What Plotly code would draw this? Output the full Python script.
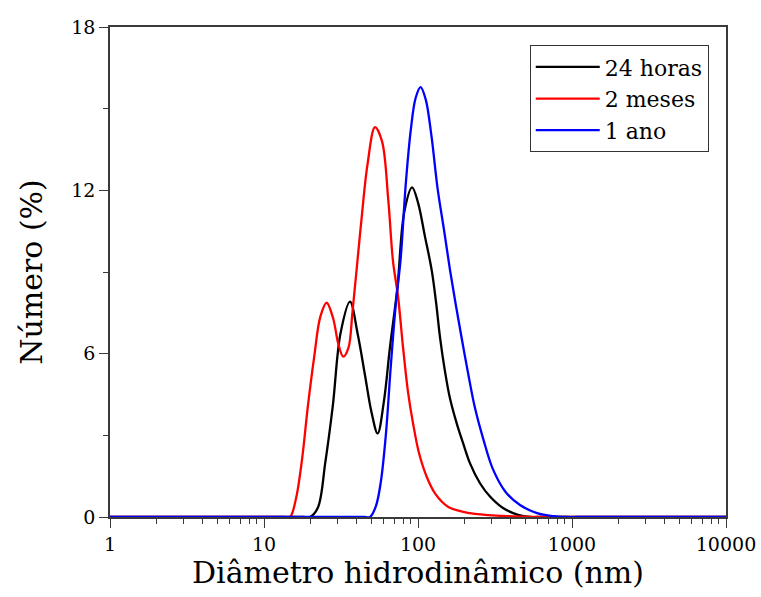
import plotly.graph_objects as go

# Distribuição de tamanho por número (DLS)
diam_24h = [1, 18.0, 19.9, 22.4, 25.0, 28.0, 31.4, 36.2, 40.5, 45.3, 49.9, 54.7, 59.9,
            65.8, 73.4, 81.4, 91.5, 100.0, 111.0, 122.7, 130.9, 139.0, 149.7, 161.4,
            179.2, 196.0, 217.7, 252.7, 293.4, 356.4, 446.1, 533.8, 600.0, 10000]
num_24h = [0, 0, 0, 0.35, 2.0, 4.1, 6.75, 7.91, 6.75, 5.2, 3.85, 3.07, 4.2,
           6.25, 8.4, 11.2, 12.11, 11.55, 10.3, 9.07, 7.9, 6.6, 5.35, 4.35,
           3.4, 2.72, 1.97, 1.24, 0.75, 0.33, 0.08, 0, 0, 0]

diam_2m = [1, 13.5, 14.75, 16.1, 17.6, 19.3, 21.2, 23.2, 25.5, 28.1, 30.4, 32.7, 35.3,
           37.5, 39.8, 42.9, 47.0, 52.6, 58.4, 64.1, 68.8, 74.2, 79.9, 86.1, 92.8,
           101.5, 114.4, 128.9, 156.6, 217.7, 356.4, 619.7, 750.0, 10000]
num_2m = [0, 0, 0, 0.65, 2.05, 4.1, 5.9, 7.35, 7.87, 7.3, 6.35, 5.89, 6.2,
          7.5, 9.0, 10.9, 12.95, 14.32, 13.8, 11.65, 9.4, 8.1, 6.25, 4.6, 3.45,
          2.35, 1.45, 0.87, 0.38, 0.14, 0.04, 0, 0, 0]

diam_1a = [1, 45.0, 48.8, 53.3, 57.4, 61.8, 66.5, 71.7, 77.2, 83.2, 89.7, 96.6, 103.9,
           112.1, 122.3, 133.8, 147.5, 161.4, 176.5, 193.1, 211.2, 234.5,
           264.3, 306.9, 372.8, 459.5, 592.6, 752.7, 928.0, 1100.0, 10000]
num_1a = [0, 0, 0, 0.4, 1.3, 3.0, 5.5, 7.8, 9.5, 12.2, 14.2, 15.4, 15.79,
          15.35, 14.0, 12.1, 10.55, 9.07, 7.75, 6.5, 5.3, 4.0,
          2.9, 1.75, 0.9, 0.44, 0.14, 0.03, 0, 0, 0]

series = [
    ("24 horas", diam_24h, num_24h, "#000000"),
    ("2 meses", diam_2m, num_2m, "#ff0000"),
    ("1 ano", diam_1a, num_1a, "#0000ff"),
]

x_ticks = [1, 10, 100, 1000, 10000]
y_ticks = [0, 6, 12, 18]

FONT = "DejaVu Serif"
AXIS = "#3a3a3a"

fig = go.Figure()
for name, x, y, color in series:
    fig.add_trace(go.Scatter(
        x=x, y=y, name=name, mode="lines",
        line=dict(color=color, width=2.3, shape="spline", smoothing=1.0),
    ))

fig.update_layout(
    width=761, height=597,
    margin=dict(l=110, r=35, t=27, b=80),
    paper_bgcolor="white", plot_bgcolor="white",
    font=dict(family=FONT, color="black"),
    showlegend=True,
    legend=dict(
        x=0.972, y=0.963, xanchor="right", yanchor="top",
        bordercolor="#333333", borderwidth=1, bgcolor="white",
        font=dict(family=FONT, size=22, color="black"),
        tracegroupgap=0, itemwidth=64,
    ),
)

fig.update_xaxes(
    type="log", range=[0, 4], automargin=False,
    tickvals=x_ticks, ticktext=[str(v) for v in x_ticks],
    ticks="outside", ticklen=9, tickwidth=1.3, tickcolor=AXIS,
    minor=dict(ticks="outside", ticklen=5, tickwidth=1, tickcolor=AXIS,
               tickvals=[m * d for d in (1, 10, 100, 1000) for m in range(2, 10)]),
    showline=True, linecolor=AXIS, linewidth=1.5, mirror=True,
    showgrid=False, zeroline=False, layer="below traces",
    tickfont=dict(family=FONT, size=19, color="black"),
    title=dict(text="Diâmetro hidrodinâmico (nm)", font=dict(family=FONT, size=30),
               standoff=6),
)
fig.update_yaxes(
    range=[0, 18], automargin=False, tickvals=y_ticks,
    ticks="outside", ticklen=9, tickwidth=1.3, tickcolor=AXIS,
    minor=dict(ticks="outside", ticklen=5, tickwidth=1, tickcolor=AXIS,
               tickvals=[3, 9, 15]),
    showline=True, linecolor=AXIS, linewidth=1.5, mirror=True,
    showgrid=False, zeroline=False, layer="below traces",
    tickfont=dict(family=FONT, size=19, color="black"),
    title=dict(text="Número (%)", font=dict(family=FONT, size=30), standoff=20),
)

fig.write_html("out.html")
